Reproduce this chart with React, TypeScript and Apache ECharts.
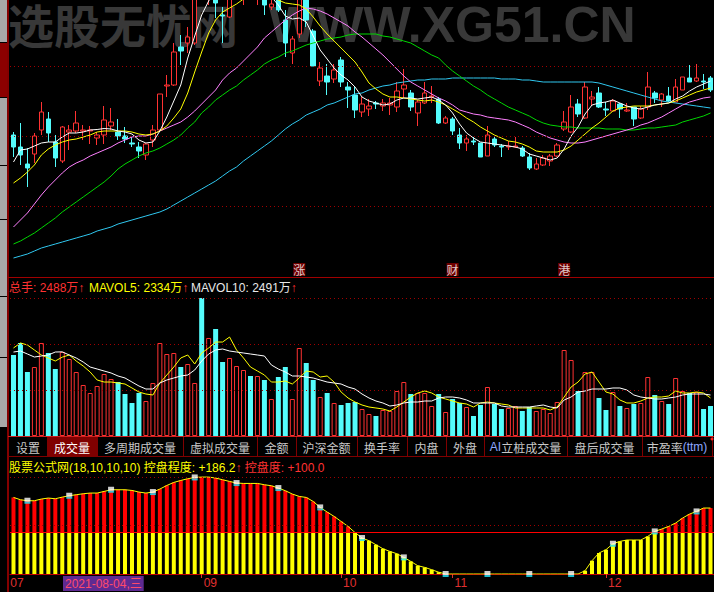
import React, { useEffect, useRef } from 'react';
import * as echarts from 'echarts';

const dates = [
  '2021-07-26','2021-07-27','2021-07-28','2021-07-29','2021-07-30',
  '2021-08-02','2021-08-03','2021-08-04','2021-08-05','2021-08-06','2021-08-09','2021-08-10','2021-08-11','2021-08-12','2021-08-13',
  '2021-08-16','2021-08-17','2021-08-18','2021-08-19','2021-08-20','2021-08-23','2021-08-24','2021-08-25','2021-08-26','2021-08-27','2021-08-30','2021-08-31',
  '2021-09-01','2021-09-02','2021-09-03','2021-09-06','2021-09-07','2021-09-08','2021-09-09','2021-09-10','2021-09-13','2021-09-14',
  '2021-09-15','2021-09-16','2021-09-17','2021-09-22','2021-09-23','2021-09-24','2021-09-27','2021-09-28','2021-09-29','2021-09-30',
  '2021-10-08','2021-10-11','2021-10-12','2021-10-13','2021-10-14','2021-10-15','2021-10-18','2021-10-19','2021-10-20','2021-10-21',
  '2021-10-22','2021-10-25','2021-10-26','2021-10-27','2021-10-28','2021-10-29',
  '2021-11-01','2021-11-02','2021-11-03','2021-11-04','2021-11-05','2021-11-08','2021-11-09','2021-11-10','2021-11-11','2021-11-12',
  '2021-11-15','2021-11-16','2021-11-17','2021-11-18','2021-11-19','2021-11-22','2021-11-23','2021-11-24','2021-11-25','2021-11-26',
  '2021-11-29','2021-11-30',
  '2021-12-01','2021-12-02','2021-12-03','2021-12-06','2021-12-07','2021-12-08','2021-12-09','2021-12-10','2021-12-13','2021-12-14',
  '2021-12-15','2021-12-16','2021-12-17','2021-12-20','2021-12-21','2021-12-22',
];

const opens = [
  16.5,15.3,13.6,14.6,17.0,18.1,15.8,13.9,16.8,16.9,
  16.9,16.9,16.2,16.5,17.4,16.8,16.4,15.7,15.3,14.5,
  16.0,17.0,21.4,21.5,25.3,25.7,25.7,34.0,30.5,32.0,
  28.5,28.3,31.5,31.0,32.5,30.8,31.0,29.3,30.3,28.0,
  24.7,26.6,30.8,26.9,21.9,22.4,22.1,24.0,21.3,20.5,
  18.8,19.1,19.7,19.4,19.5,19.3,21.1,20.7,18.7,19.7,
  20.3,20.1,17.7,18.1,16.5,15.7,15.9,15.7,14.4,16.1,
  15.4,15.3,15.3,15.2,14.3,13.1,13.5,13.9,14.4,17.1,
  16.8,19.6,18.2,20.1,20.7,19.1,18.9,19.6,18.9,19.3,
  18.2,19.3,20.7,20.0,20.4,19.8,21.0,22.2,21.9,21.9,
  22.2,
];
const closes = [
  15.3,14.5,13.2,16.4,18.8,16.7,14.2,17.3,17.0,17.7,
  17.0,17.0,16.5,18.0,17.8,16.4,16.1,15.6,14.9,15.6,
  17.0,20.6,21.5,24.8,24.9,26.3,31.2,32.0,32.5,29.7,
  28.4,30.5,33.0,32.5,31.2,32.0,29.5,29.6,29.0,25.7,
  26.1,30.6,28.0,23.4,23.2,21.8,23.0,21.8,21.0,19.0,
  19.6,19.4,19.6,19.7,19.7,20.9,21.5,19.3,19.8,20.7,
  20.4,17.7,18.2,16.9,15.7,16.1,15.8,14.3,16.5,15.5,
  15.3,15.4,15.4,14.4,13.2,13.6,14.2,14.4,15.5,17.8,
  19.3,18.6,21.3,20.3,19.3,19.0,19.9,19.1,19.0,18.1,
  19.1,21.3,20.2,20.6,19.9,21.3,22.3,21.8,22.2,21.8,
  21.0,
];
const lows = [
  14.3,13.5,11.3,13.7,16.5,15.8,13.3,13.7,15.0,16.7,
  16.0,15.6,15.5,15.6,17.0,16.0,15.7,15.3,14.2,14.0,
  15.3,16.8,20.3,21.4,23.5,24.7,25.5,30.8,29.5,28.2,
  25.7,28.2,30.5,29.5,30.3,29.5,28.5,29.0,28.8,24.3,
  23.6,26.2,27.3,23.4,21.4,20.5,21.7,21.3,19.2,18.2,
  18.3,18.4,19.1,18.9,18.5,18.8,20.2,18.9,17.4,19.6,
  19.7,17.6,17.6,16.5,15.1,14.9,15.5,14.3,14.4,15.3,
  14.3,15.0,15.2,14.3,13.0,13.0,13.4,13.4,14.3,16.9,
  16.7,18.3,18.1,19.4,19.2,18.4,18.9,18.2,18.8,17.4,
  18.1,19.0,19.7,19.3,19.8,19.8,21.0,21.8,21.8,21.1,
  20.8,
];
const highs = [
  16.8,17.7,15.2,16.7,19.8,18.8,16.5,17.4,17.5,18.9,
  17.5,17.4,16.8,19.4,19.2,18.1,17.3,16.3,15.8,15.7,
  17.5,20.6,22.5,25.7,26.5,27.3,31.5,35.0,33.5,33.0,
  29.3,31.5,34.0,33.5,33.5,33.0,31.8,30.0,31.0,29.0,
  26.4,31.0,31.5,27.1,23.8,23.6,23.6,24.3,21.8,21.3,
  20.3,20.1,19.9,20.1,20.2,21.8,23.1,21.0,20.0,21.8,
  21.4,20.3,18.4,18.3,17.2,16.5,16.3,15.7,17.4,16.3,
  15.6,15.9,16.3,15.4,14.7,14.2,14.5,14.6,15.7,18.9,
  20.5,20.1,21.8,20.9,21.3,19.8,20.1,19.7,19.7,19.3,
  19.4,22.8,20.9,20.7,21.3,22.1,22.3,23.5,23.6,22.6,
  22.4,
];

const ma5 = [
  13.8,15.0,15.1,15.4,15.7,15.8,15.8,16.3,16.7,16.7,
  16.8,17.0,17.05,17.15,17.1,16.9,16.8,16.6,16.0,15.7,
  15.8,16.9,18.3,19.9,21.5,24.2,26.4,28.5,29.9,31.0,
  32.0,32.5,33.0,33.0,32.8,32.2,31.2,30.3,29.5,28.4,
  28.1,28.2,27.8,26.4,25.0,24.1,23.2,22.5,22.0,21.3,
  20.3,19.9,19.7,19.5,19.6,20.0,20.2,20.2,20.1,20.2,
  20.3,20.0,19.5,18.7,17.6,16.7,16.2,15.8,15.7,15.6,
  15.5,15.4,15.3,15.1,14.6,14.4,14.2,14.0,14.2,15.1,
  16.4,17.3,18.6,19.5,19.7,19.8,20.0,19.7,19.4,19.2,
  19.1,19.3,19.5,19.6,19.7,20.1,20.4,20.9,21.3,21.6,
  21.9,
];
const ma10 = [
  11.7,12.2,12.8,13.5,14.5,15.1,15.5,15.8,16.0,16.1,
  16.3,16.5,16.8,16.9,16.9,16.9,16.9,16.8,16.6,16.5,
  16.6,16.9,17.4,18.2,19.1,20.7,22.8,24.8,26.7,28.0,
  28.8,29.2,29.6,30.1,30.5,30.7,30.6,30.3,30.0,29.7,
  29.6,29.5,29.1,28.3,27.4,26.6,25.9,25.2,24.5,23.8,
  22.8,21.7,21.1,20.6,20.3,20.3,20.2,20.1,20.0,19.9,
  20.0,19.8,19.5,19.1,18.7,18.2,17.8,17.3,16.9,16.5,
  16.2,15.9,15.8,15.6,15.3,14.9,14.8,14.8,14.8,15.0,
  15.4,16.0,16.6,17.2,17.7,18.3,18.9,19.2,19.3,19.4,
  19.4,19.4,19.5,19.6,19.7,19.9,20.2,20.5,20.8,21.0,
  21.2,
];
const ma20 = [
  7.3,8.0,8.7,9.6,10.5,11.3,12.0,12.7,13.3,13.7,
  14.0,14.4,14.7,15.0,15.3,15.7,16.0,16.3,16.4,16.4,
  16.6,16.9,17.2,17.5,17.8,18.3,18.9,19.6,20.3,21.0,
  22.0,22.7,23.2,23.9,24.6,25.3,26.2,26.8,27.4,28.0,
  28.5,28.9,29.2,29.1,28.9,28.6,28.2,27.8,27.4,26.8,
  26.3,25.7,25.1,24.5,23.8,23.1,22.4,21.8,21.4,21.0,
  20.6,20.2,19.9,19.5,19.0,18.8,18.6,18.5,18.3,18.2,
  18.1,18.0,17.8,17.5,17.2,16.8,16.5,16.2,16.0,15.8,
  15.7,15.7,15.8,16.0,16.2,16.4,16.6,16.8,17.0,17.2,
  17.5,17.7,18.0,18.3,18.7,19.1,19.5,19.8,20.0,20.2,
  20.3,
];
const ma30 = [
  5.6,5.9,6.3,6.7,7.2,7.7,8.2,8.8,9.3,9.8,
  10.3,10.8,11.3,11.8,12.4,13.1,13.6,14.0,14.4,14.7,
  14.9,15.2,15.6,16.0,16.5,17.2,17.8,18.7,19.3,20.0,
  20.5,21.0,21.4,22.0,22.5,23.0,23.6,24.0,24.3,24.7,
  24.9,25.2,25.5,25.7,25.9,26.1,26.2,26.3,26.5,26.6,
  26.6,26.6,26.6,26.4,26.3,26.1,25.9,25.7,25.3,24.9,
  24.5,24.2,23.5,22.9,22.4,21.9,21.4,21.0,20.5,20.1,
  19.7,19.3,19.0,18.7,18.4,18.0,17.7,17.5,17.4,17.3,
  17.3,17.2,17.2,17.2,17.2,17.1,17.1,17.1,17.0,17.0,
  17.1,17.2,17.2,17.3,17.4,17.5,17.8,18.0,18.2,18.4,
  18.7,
];
const ma60 = [
  4.2,4.4,4.6,4.9,5.2,5.4,5.6,5.8,6.0,6.2,
  6.4,6.6,6.9,7.1,7.3,7.6,7.8,8.0,8.2,8.4,
  8.6,8.8,9.1,9.5,9.9,10.3,10.7,11.1,11.5,11.9,
  12.4,12.9,13.3,13.9,14.4,14.9,15.4,15.9,16.5,17.1,
  17.6,18.0,18.5,18.8,19.1,19.5,19.7,20.0,20.3,20.6,
  20.7,21.0,21.2,21.4,21.5,21.7,21.8,21.9,22.0,22.0,
  22.1,22.1,22.1,22.2,22.2,22.2,22.2,22.2,22.2,22.2,
  22.1,22.1,22.1,22.0,22.0,21.9,21.8,21.8,21.8,21.8,
  21.8,21.8,21.8,21.8,21.7,21.5,21.3,21.1,20.9,20.7,
  20.5,20.3,20.1,19.9,19.8,19.7,19.6,19.5,19.4,19.3,
  19.2,
];

// 成交量 (万手)
const volumes = [
  2398,2753,1894,2042,2753,2457,1983,2488,2279,1894,
  1510,1273,1480,1835,1687,1598,1243,977,1273,1036,
  1569,2753,2427,2457,2042,2131,1569,4085,2901,3167,
  2190,2309,2072,1954,1776,1776,1658,1095,1746,2042,
  1095,2605,2161,1658,1154,1273,977,918,977,1006,
  799,651,592,770,740,1332,1598,1243,1273,1273,
  888,1243,710,1095,977,858,592,918,1450,947,
  799,829,888,740,858,740,799,681,1006,2546,
  2250,1332,1894,1894,1125,770,1302,888,829,947,
  977,1746,1214,1036,947,1717,1332,1273,1302,799,
  888,
];
const volMa5 = [
  2605,2753,2694,2546,2398,2309,2220,2334,2398,2220,
  2072,1894,1658,1598,1598,1569,1539,1421,1302,1243,
  1214,1569,1806,2042,2309,2398,2131,2457,2605,2782,
  2782,2930,2546,2309,2042,1924,1806,1598,1598,1628,
  1539,1717,1924,1894,1746,1776,1598,1302,1125,1006,
  918,858,829,799,740,858,1006,1154,1273,1332,
  1273,1154,1095,1036,977,947,858,977,1006,977,
  947,918,829,829,829,829,829,770,858,1154,
  1450,1598,1835,1894,1598,1302,1243,1066,977,977,
  1036,1125,1154,1154,1184,1332,1273,1273,1302,1273,
  1125,
];
const volMa10 = [
  2486,2516,2427,2338,2368,2398,2486,2491,2398,2309,
  2190,2042,1983,1924,1865,1776,1717,1598,1480,1391,
  1391,1569,1658,1717,1776,1806,1954,2220,2427,2546,
  2575,2516,2486,2457,2427,2398,2368,2102,1983,1894,
  1776,1776,1746,1717,1658,1598,1569,1539,1450,1391,
  1243,1125,1036,977,888,918,977,1006,1006,1036,
  1036,1125,1154,1154,1125,1066,977,977,977,977,
  888,858,858,858,858,888,918,858,829,1066,
  1154,1302,1332,1391,1391,1391,1421,1421,1362,1214,
  1154,1125,1095,1095,1125,1154,1214,1243,1243,1243,
  1214,
];

// 控盘程度
const ctrl = [
  185.4,179.8,177.4,177.4,181.5,183.9,182.2,186.2,189.5,191.9,
  194.3,196.0,196.0,199.9,204.0,204.0,204.0,202.3,198.4,196.0,
  198.4,205.7,214.4,221.7,226.5,230.6,233.8,234.7,234.7,232.3,
  228.2,224.1,220.2,219.3,219.3,219.3,216.1,213.7,208.1,201.6,
  193.6,187.8,185.4,175.7,161.2,150.0,139.4,127.3,115.2,100.4,
  87.1,80.6,70.9,61.2,54.7,49.1,40.2,30.5,20.1,16.0,
  10.4,4.4,0,0,0,0,0,0,0,0,
  0,0,0,0,0,0,0,0,0,0,
  0,0,8.0,32.2,50.8,58.8,73.3,78.9,82.3,82.3,
  82.3,91.0,103.1,108.9,115.2,123.4,135.5,145.2,151.5,159.7,
  159.7,
];
const ctrlLevel = 100;
const markerIdx = [2, 8, 14, 20, 26, 32, 38, 44, 50, 56, 62, 68, 74, 80, 86, 92, 98];

const eventIdx = [41, 63, 79];
const eventText = ['涨', '财', '港'];
const priceGridLines = [9.4, 16.4, 23.4];
const cursorIdx = 7;
const weekdays = ['日', '一', '二', '三', '四', '五', '六'];

const tabLabels = ['设置', '成交量', '多周期成交量', '虚拟成交量', '金额', '沪深金额', '换手率', '内盘', '外盘', 'AI立桩成交量', '盘后成交量', '市盈率(ttm)'];
const tabEdges = [9, 47, 97, 183, 257, 296, 357, 407, 446, 484, 567, 642, 712];
const activeTab = 1;

const RED = '#ff3232';
const CYAN = '#54fcfc';
const DARKRED = '#a00000';
const FONT = '"Liberation Sans", "Noto Sans CJK SC", Arial, sans-serif';
const CJK = '"Noto Sans CJK SC", "Liberation Sans", sans-serif';

function buildOption(): any {
  const isUp = (i: number) => closes[i] >= opens[i];
  const maxVol = Math.max(...volumes);
  const maxCtrl = Math.max(...ctrl);
  // first trading day of each month; the one next to the cursor label is hidden, as on the reference
  const monthStart = dates.map((d, i) => i > 0 && d.slice(5, 7) !== dates[i - 1].slice(5, 7) && Math.abs(i - cursorIdx) > 3);

  const line = (data: number[], color: string, xi: number, z = 3) => ({
    type: 'line', xAxisIndex: xi, yAxisIndex: xi, data, showSymbol: false, symbol: 'none',
    lineStyle: { color, width: 1 }, itemStyle: { color }, silent: true, z, clip: true,
  });
  const dotted = { color: DARKRED, width: 1, type: [1, 3] };

  const g: any[] = [];
  // watermark
  g.push({ type: 'text', x: 8, y: 0, z: 0, silent: true, style: { text: '选股无忧网', fill: '#383838', fontSize: 46, fontWeight: 'bold', fontFamily: CJK, align: 'left', verticalAlign: 'top', textAlign: 'left', textVerticalAlign: 'top' } });
  g.push({ type: 'text', x: 269, y: 0, z: 0, silent: true, style: { text: 'WWW.XG51.CN', fill: '#383838', fontSize: 50, fontWeight: 'bold', fontFamily: FONT, align: 'left', verticalAlign: 'top', textAlign: 'left', textVerticalAlign: 'top' } });

  // left strip
  const strip = [[0, 42, '#a8a8a8'], [43, 97, '#8c0000'], [98, 165, '#a8a8a8'], [166, 219, '#a8a8a8'], [220, 296, '#a8a8a8'], [297, 357, '#a8a8a8'], [358, 427, '#a8a8a8']];
  strip.forEach(([a, b, c]: any) => g.push({ type: 'rect', z: 20, silent: true, shape: { x: 0, y: a, width: 7, height: b - a }, style: { fill: c } }));
  g.push({ type: 'line', z: 20, silent: true, shape: { x1: 8, y1: 0, x2: 8, y2: 592 }, style: { stroke: '#b00000', lineWidth: 1.5 } });
  // panel separators
  g.push({ type: 'line', z: 20, silent: true, shape: { x1: 8, y1: 277.5, x2: 714, y2: 277.5 }, style: { stroke: DARKRED, lineWidth: 1 } });
  // tab bar
  g.push({ type: 'rect', z: 20, silent: true, shape: { x: 9, y: 437, width: 705, height: 19 }, style: { fill: '#000' } });
  g.push({ type: 'line', z: 21, silent: true, shape: { x1: 8, y1: 436.5, x2: 714, y2: 436.5 }, style: { stroke: '#d02020', lineWidth: 1 } });
  g.push({ type: 'line', z: 21, silent: true, shape: { x1: 8, y1: 456.5, x2: 714, y2: 456.5 }, style: { stroke: '#800000', lineWidth: 1 } });
  tabLabels.forEach((t, k) => {
    const x0 = tabEdges[k], x1 = tabEdges[k + 1];
    if (k === activeTab) g.push({ type: 'rect', z: 21, silent: true, shape: { x: x0 + 1, y: 437, width: x1 - x0 - 1, height: 19 }, style: { fill: '#800000' } });
    g.push({ type: 'line', z: 22, silent: true, shape: { x1: x1 + 0.5, y1: 437, x2: x1 + 0.5, y2: 456 }, style: { stroke: '#800000', lineWidth: 1 } });
    let text = `{n|${t}}`;
    if (t.startsWith('AI')) text = `{b|AI}{n|${t.slice(2)}}`;
    if (t.includes('(ttm)')) text = `{n|${t.replace('(ttm)', '')}}{b|(ttm)}`;
    const col = k === activeTab ? '#ffffff' : '#c8c8c8';
    g.push({ type: 'text', z: 22, silent: true, x: (x0 + x1) / 2, y: 447, style: {
      text, align: 'center', verticalAlign: 'middle', textAlign: 'center', textVerticalAlign: 'middle',
      rich: { n: { fill: col, color: col, fontSize: 12, fontFamily: CJK }, b: { fill: '#8fa8ff', color: '#8fa8ff', fontSize: 12, fontFamily: FONT } },
    } });
  });
  g.push({ type: 'circle', z: 22, silent: true, shape: { cx: 712, cy: 439, r: 1.5 }, style: { fill: '#ff2020' } });

  // headers
  const hdr = (x: number, y: number, text: string, rich: any) => g.push({ type: 'text', z: 22, silent: true, x, y, style: { text, rich, align: 'left', verticalAlign: 'middle', textAlign: 'left', textVerticalAlign: 'middle' } });
  const rs = (c: string, f = FONT) => ({ fill: c, color: c, fontSize: 12, fontFamily: f });
  hdr(9, 288, `{r|总手: ${volumes[cursorIdx]}万↑}`, { r: rs(RED) });
  hdr(89, 288, `{y|MAVOL5: ${volMa5[cursorIdx]}万}{r|↑}`, { y: rs('#ffff00'), r: rs(RED) });
  hdr(191, 288, `{w|MAVOL10: ${volMa10[cursorIdx]}万}{r|↑}`, { w: rs('#e8e8e8'), r: rs(RED) });
  hdr(9, 468, `{y|股票公式网(18,10,10,10) 控盘程度: +${ctrl[cursorIdx].toFixed(1)}}{r|↑ 控盘度: +${ctrlLevel.toFixed(1)}}`, { y: rs('#ffff00'), r: rs(RED) });

  // cursor date label
  const cd = new Date(dates[cursorIdx] + 'T00:00:00');
  g.push({ type: 'text', z: 22, silent: true, x: 63, y: 583.5, style: {
    text: `${dates[cursorIdx]},${weekdays[cd.getDay()]}`, fill: '#ff4a6a', fontSize: 12, fontFamily: FONT,
    backgroundColor: '#5e2a92', padding: [2, 2, 1, 2], align: 'left', verticalAlign: 'middle', textAlign: 'left', textVerticalAlign: 'middle',
  } });

  const baseX = (gi: number) => ({
    type: 'category', gridIndex: gi, data: dates, boundaryGap: true,
    axisLine: { show: false }, axisTick: { show: false }, axisLabel: { show: false }, splitLine: { show: false },
  });

  return {
    animation: false,
    backgroundColor: '#000000',
    grid: [
      { left: 10, top: 0, width: 707, height: 276 },
      { left: 10, top: 278, width: 707, height: 158 },
      { left: 10, top: 457, width: 707, height: 117 },
    ],
    xAxis: [
      baseX(0),
      baseX(1),
      {
        ...baseX(2),
        axisLine: { show: true, lineStyle: { color: '#c00000', width: 1 } },
        axisTick: { show: true, alignWithLabel: true, interval: (i: number) => monthStart[i], length: 4, lineStyle: { color: '#e03030' } },
        axisLabel: {
          show: true, interval: (i: number) => i === 0 || monthStart[i],
          formatter: (v: string, i: number) => (i === 0 ? `{s|}${v.slice(5, 7)}` : v.slice(5, 7)),
          rich: { s: { width: 5 } },
          color: '#e03030', fontSize: 12, fontFamily: FONT, align: 'left', alignMinLabel: 'center', margin: 3, padding: [0, 0, 0, 2],
        },
      },
    ],
    yAxis: [
      { type: 'value', gridIndex: 0, min: 2.4, max: 30, show: false },
      { type: 'value', gridIndex: 1, min: 0, max: 4677, show: false },
      { type: 'value', gridIndex: 2, min: 0, max: 283.3, show: false },
    ],
    graphic: { elements: g },
    series: [
      {
        type: 'candlestick', xAxisIndex: 0, yAxisIndex: 0, barWidth: 5, silent: true, clip: true,
        data: dates.map((_, i) => [opens[i], closes[i], lows[i], highs[i]]),
        itemStyle: { color: '#000000', color0: CYAN, borderColor: RED, borderColor0: CYAN, borderWidth: 1 },
        markLine: { silent: true, symbol: 'none', label: { show: false }, lineStyle: dotted, data: priceGridLines.map((v) => ({ yAxis: v })) },
        z: 2,
      },
      line(ma60, '#30c8f0', 0),
      line(ma30, '#00d800', 0),
      line(ma20, '#ff80ff', 0),
      line(ma10, '#ffff00', 0),
      line(ma5, '#ffffff', 0),
      {
        type: 'scatter', xAxisIndex: 0, yAxisIndex: 0, silent: true, z: 6,
        data: eventIdx.map((i, k) => ({ value: [i, 3.05], name: eventText[k] })),
        symbol: 'rect', symbolSize: [12, 13], itemStyle: { color: '#8b0000' },
        label: { show: true, position: 'inside', formatter: (p: any) => p.name, color: '#ffffff', fontSize: 12, fontFamily: CJK },
      },
      {
        type: 'bar', xAxisIndex: 1, yAxisIndex: 1, barWidth: 5, silent: true, z: 2,
        data: volumes.map((v, i) => ({
          value: v,
          itemStyle: isUp(i) ? { color: '#000000', borderColor: RED, borderWidth: 1 } : { color: CYAN },
        })),
        markLine: { silent: true, symbol: 'none', label: { show: false }, lineStyle: dotted, data: [1, 2, 3].map((k) => ({ yAxis: (maxVol * k) / 3 })) },
      },
      line(volMa5, '#ffff00', 1),
      line(volMa10, '#ffffff', 1),
      {
        type: 'bar', xAxisIndex: 2, yAxisIndex: 2, stack: 'ctrl', barWidth: 4, silent: true, z: 2,
        data: ctrl.map((v) => Math.min(v, ctrlLevel)), itemStyle: { color: '#ffff00' },
        markLine: {
          silent: true, symbol: 'none', label: { show: false },
          data: [
            { yAxis: maxCtrl, lineStyle: dotted },
            { yAxis: maxCtrl / 2, lineStyle: dotted },
            { yAxis: ctrlLevel, lineStyle: { color: '#ff0000', width: 1, type: 'solid' } },
          ],
        },
      },
      {
        type: 'bar', xAxisIndex: 2, yAxisIndex: 2, stack: 'ctrl', barWidth: 4, silent: true, z: 2,
        data: ctrl.map((v) => Math.max(v - ctrlLevel, 0)), itemStyle: { color: '#ff0000' },
      },
      line(ctrl, '#ffff00', 2, 4),
      {
        type: 'scatter', xAxisIndex: 2, yAxisIndex: 2, silent: true, z: 5,
        data: markerIdx.map((i) => [i, ctrl[i]]), symbol: 'rect', symbolSize: [6, 4], symbolOffset: [0, -1],
        itemStyle: { color: '#ffffff' },
      },
      {
        type: 'scatter', xAxisIndex: 2, yAxisIndex: 2, silent: true, z: 5,
        data: markerIdx.map((i) => [i, ctrl[i]]), symbol: 'rect', symbolSize: [6, 2], symbolOffset: [0, 2],
        itemStyle: { color: '#20e8ff' },
      },
    ],
  };
}

export default function App() {
  const ref = useRef<HTMLDivElement>(null);
  useEffect(() => {
    if (!ref.current) return;
    const chart = echarts.init(ref.current, undefined, { renderer: 'svg' });
    chart.setOption(buildOption());
    return () => chart.dispose();
  }, []);
  return <div ref={ref} style={{ position: 'fixed', left: 0, top: 0, width: 714, height: 592, background: '#000' }} />;
}
